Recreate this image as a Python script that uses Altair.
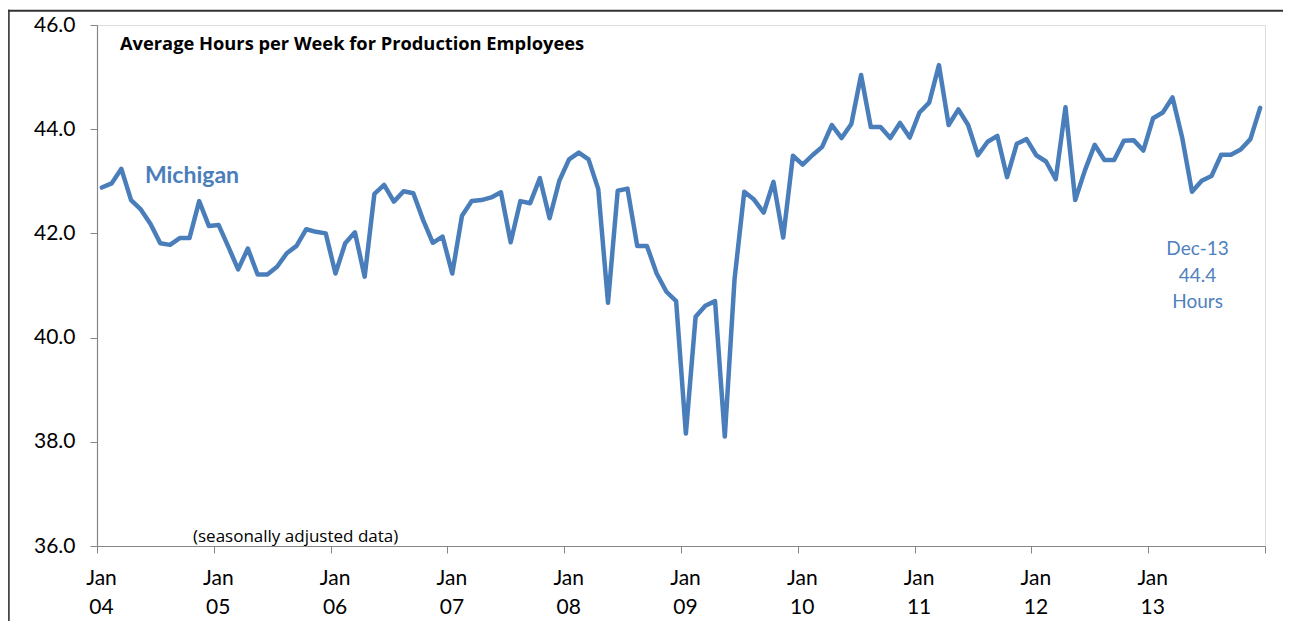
import altair as alt
import pandas as pd

# ---- data -------------------------------------------------------------
years = ["04", "05", "06", "07", "08", "09", "10", "11", "12", "13"]
month_label = "Jan"

hours_2004 = [42.88, 42.96, 43.24, 42.64, 42.46, 42.18, 41.81, 41.78, 41.91, 41.91, 42.62, 42.14]
hours_2005 = [42.16, 41.74, 41.31, 41.71, 41.21, 41.21, 41.36, 41.62, 41.76, 42.08, 42.03, 42.00]
hours_2006 = [41.23, 41.81, 42.02, 41.17, 42.76, 42.93, 42.61, 42.81, 42.77, 42.26, 41.82, 41.94]
hours_2007 = [41.23, 42.34, 42.62, 42.64, 42.69, 42.79, 41.83, 42.62, 42.58, 43.06, 42.29, 43.01]
hours_2008 = [43.42, 43.55, 43.42, 42.85, 40.67, 42.82, 42.86, 41.76, 41.76, 41.23, 40.88, 40.70]
hours_2009 = [38.16, 40.40, 40.61, 40.70, 38.10, 41.12, 42.80, 42.65, 42.40, 42.99, 41.92, 43.49]
hours_2010 = [43.32, 43.50, 43.66, 44.08, 43.83, 44.10, 45.04, 44.04, 44.04, 43.83, 44.12, 43.84]
hours_2011 = [44.32, 44.51, 45.23, 44.08, 44.38, 44.08, 43.50, 43.76, 43.87, 43.08, 43.72, 43.81]
hours_2012 = [43.50, 43.38, 43.04, 44.42, 42.64, 43.21, 43.70, 43.41, 43.41, 43.78, 43.79, 43.59]
hours_2013 = [44.21, 44.32, 44.61, 43.83, 42.80, 43.01, 43.10, 43.51, 43.51, 43.61, 43.81, 44.41]

hours = (hours_2004 + hours_2005 + hours_2006 + hours_2007 + hours_2008 +
         hours_2009 + hours_2010 + hours_2011 + hours_2012 + hours_2013)

y_ticks = [36, 38, 40, 42, 44, 46]

chart_title = "Average Hours per Week for Production Employees"
series_name = "Michigan"
note_text = "(seasonally adjusted data)"
last_lines = ["Dec-13", "44.4", "Hours"]

# ---- layout / style ----------------------------------------------------
W, H = 1168, 521
PAD = {"left": 89, "top": 17, "right": 18, "bottom": 75}
BLUE = "#4A7EBB"
AXIS_GREY = "#868686"
FONT = "Lato"
FONT2 = "Open Sans"

n = len(hours)
df = pd.DataFrame({"idx": list(range(n)), "hours": hours})

x_scale = alt.Scale(domain=[-0.5, n - 0.5], nice=False, zero=False)
y_scale = alt.Scale(domain=[36, 46], nice=False, zero=False)

tick_vals = [-0.5 + 12 * k for k in range(len(years) + 1)]
label_list = ",".join("['%s','%s']" % (month_label, y) for y in years) + ",''"
label_expr = "[%s][round((datum.value + 0.5) / 12)]" % label_list

x_axis = alt.Axis(
    values=tick_vals, labelExpr=label_expr, labelOffset=4, labelFlush=False,
    tickSize=7, tickColor=AXIS_GREY, domainColor=AXIS_GREY, domainWidth=1.2,
    labelFont=FONT, labelFontSize=21, labelColor="black", labelPadding=14,
    labelLineHeight=29, labelAngle=0, grid=False, title=None, labelOverlap=False,
)
y_axis = alt.Axis(
    values=y_ticks, format=".1f", labelFlush=False,
    tickSize=7, tickColor=AXIS_GREY, domainColor=AXIS_GREY, domainWidth=1.2,
    labelFont=FONT, labelFontSize=21, labelColor="black", labelPadding=15,
    grid=False, title=None,
)

base = alt.Chart(df)

line = base.mark_line(color=BLUE, strokeWidth=4.5, strokeJoin="round", strokeCap="round").encode(
    x=alt.X("idx:Q", scale=x_scale, axis=x_axis),
    y=alt.Y("hours:Q", scale=y_scale, axis=y_axis),
)

one = pd.DataFrame({"k": [0]})

title_txt = alt.Chart(one).mark_text(
    align="left", baseline="middle", font=FONT2, fontSize=18.3, fontWeight="bold", color="black"
).encode(x=alt.datum(1.86, scale=x_scale), y=alt.datum(45.62, scale=y_scale), text=alt.value(chart_title))

series_txt = alt.Chart(one).mark_text(
    align="center", baseline="middle", font=FONT, fontSize=23, fontWeight="bold", color=BLUE
).encode(x=alt.datum(9.26, scale=x_scale), y=alt.datum(43.10, scale=y_scale), text=alt.value(series_name))

note_txt = alt.Chart(one).mark_text(
    align="left", baseline="middle", font=FONT2, fontSize=17, color="black"
).encode(x=alt.datum(9.36, scale=x_scale), y=alt.datum(36.17, scale=y_scale), text=alt.value(note_text))

last_df = pd.DataFrame({"t": last_lines, "v": [41.71, 41.18, 40.69]})
last_txt = alt.Chart(last_df).mark_text(
    align="center", baseline="middle", font=FONT, fontSize=19, color="#4F81BD"
).encode(x=alt.datum(112.57, scale=x_scale), y=alt.Y("v:Q", scale=y_scale), text="t:N")

top_border = alt.Chart(one).mark_rule(color="#333333", strokeWidth=2).encode(
    x=alt.value(-PAD["left"]), x2=alt.value(W + PAD["right"]), y=alt.value(-14.2)
)
left_border = alt.Chart(one).mark_rule(color="#333333", strokeWidth=1.6).encode(
    x=alt.value(-PAD["left"] + 0.9), y=alt.value(-15.2), y2=alt.value(H + PAD["bottom"])
)

chart = alt.layer(
    top_border, left_border, line, title_txt, series_txt, note_txt, last_txt
).properties(
    width=W, height=H, padding=PAD,
    autosize=alt.AutoSizeParams(type="none"),
).configure_view(stroke=None).configure(background="white")

chart.save("out.html", embed_options={"renderer": "svg", "actions": False})
